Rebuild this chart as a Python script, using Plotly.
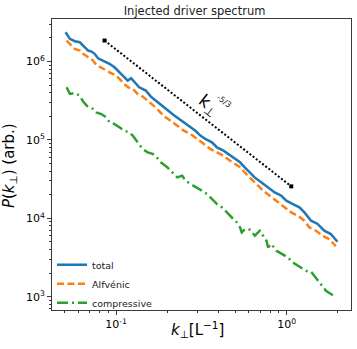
import numpy as np
import plotly.graph_objects as go

# total spectrum
k_total = [0.0505, 0.0535, 0.0572, 0.0612, 0.0640, 0.0685, 0.0716, 0.0748, 0.0783, 0.0837,
           0.0914, 0.0978, 0.1045, 0.1117, 0.1170, 0.1223, 0.1278, 0.1366, 0.1494, 0.1598,
           0.1748, 0.1909, 0.2041, 0.2183, 0.2387, 0.2553, 0.2729, 0.2918, 0.3120, 0.3337,
           0.3649, 0.3903, 0.4264, 0.4662, 0.4985, 0.5331, 0.5700, 0.6094, 0.6516, 0.7126,
           0.7786, 0.8515, 0.9315, 0.996, 1.088, 1.190, 1.272, 1.392, 1.521, 1.663,
           1.819, 1.927, 1.987]
p_total = [2.367e6, 1.949e6, 1.817e6, 1.764e6, 1.601e6, 1.382e6, 1.342e6, 1.254e6, 1.102e6, 1.030e6,
           9.35e5, 8.46e5, 7.30e5, 6.30e5, 5.72e5, 6.12e5, 5.44e5, 4.70e5, 4.26e5, 3.57e5,
           3.04e5, 2.59e5, 2.30e5, 2.07e5, 1.79e5, 1.60e5, 1.45e5, 1.31e5, 1.135e5, 1.03e5,
           9.32e4, 8.04e4, 7.30e4, 6.30e4, 5.72e4, 5.18e4, 4.43e4, 3.88e4, 3.30e4, 2.87e4,
           2.48e4, 2.14e4, 1.94e4, 1.68e4, 1.52e4, 1.38e4, 1.19e4, 9.32e3, 8.46e3, 6.94e3,
           6.30e3, 5.49e3, 5.02e3]

# Alfvenic part
k_alf = [0.0512, 0.0535, 0.0572, 0.0612, 0.0640, 0.0685, 0.0732, 0.0765, 0.0837, 0.0914,
         0.1000, 0.1094, 0.1170, 0.1251, 0.1337, 0.1430, 0.1562, 0.1709, 0.1909, 0.2088,
         0.2284, 0.2495, 0.2729, 0.2985, 0.3262, 0.3567, 0.3903, 0.4264, 0.4662, 0.4985,
         0.5331, 0.5700, 0.6094, 0.6665, 0.7280, 0.7964, 0.8713, 0.9736, 1.065, 1.163,
         1.272, 1.360, 1.488, 1.626, 1.778, 1.945]
p_alf = [1.854e6, 1.683e6, 1.453e6, 1.382e6, 1.254e6, 1.135e6, 1.030e6, 9.08e5, 8.07e5, 7.30e5,
         6.63e5, 5.44e5, 4.70e5, 4.48e5, 3.87e5, 3.57e5, 3.04e5, 2.59e5, 2.01e5, 1.76e5,
         1.52e5, 1.31e5, 1.19e5, 1.03e5, 8.89e4, 7.68e4, 6.94e4, 6.30e4, 5.44e4, 4.94e4,
         4.47e4, 3.82e4, 3.30e4, 2.74e4, 2.25e4, 1.94e4, 1.68e4, 1.38e4, 1.19e4, 1.08e4,
         9.32e3, 7.65e3, 6.94e3, 5.99e3, 5.44e3, 4.40e3]

# compressive part
k_comp = [0.0512, 0.0535, 0.0572, 0.0612, 0.0640, 0.0685, 0.0732, 0.0765, 0.0818, 0.0875,
          0.0914, 0.0978, 0.1045, 0.1117, 0.1195, 0.1251, 0.1337, 0.1430, 0.1529, 0.1635,
          0.1709, 0.1827, 0.1998, 0.2136, 0.2284, 0.2442, 0.2553, 0.2729, 0.2985, 0.3192,
          0.3413, 0.3649, 0.3903, 0.4173, 0.4461, 0.4770, 0.5100, 0.5331, 0.5454, 0.5700,
          0.6094, 0.6516, 0.6966, 0.7280, 0.7621, 0.7786, 0.8147, 0.8713, 0.9517, 1.0176,
          1.088, 1.163, 1.244, 1.330, 1.392, 1.4545, 1.5205, 1.6256, 1.7015, 1.8193,
          1.9453]
p_comp = [4.70e5, 3.87e5, 3.96e5, 3.68e5, 3.08e5, 2.61e5, 2.49e5, 2.25e5, 2.14e5, 1.94e5,
          1.68e5, 1.59e5, 1.45e5, 1.31e5, 1.25e5, 1.135e5, 9.32e4, 7.68e4, 6.94e4, 6.63e4,
          6.21e4, 5.18e4, 4.47e4, 3.86e4, 3.33e4, 3.50e4, 3.02e4, 2.74e4, 2.48e4, 2.25e4,
          2.04e4, 1.76e4, 1.52e4, 1.38e4, 1.19e4, 1.03e4, 8.86e3, 7.65e3, 6.60e3, 7.30e3,
          7.15e3, 5.99e3, 6.94e3, 5.99e3, 5.17e3, 4.25e3, 4.70e3, 3.86e3, 3.50e3, 3.17e3,
          2.73e3, 2.48e3, 2.25e3, 2.08e3, 2.08e3, 1.85e3, 1.60e3, 1.38e3, 1.19e3, 1.08e3,
          997]

# k^-5/3 guide line
k_ref = [0.0855, 1.065]
p_ref = [1.854e6, 2.556e4]

x_ticks = [0.1, 1.0]
x_tick_text = ["10<sup>-1</sup>", "10<sup>0</sup>"]
y_ticks = [1e3, 1e4, 1e5, 1e6]
y_tick_text = ["10<sup>3</sup>", "10<sup>4</sup>", "10<sup>5</sup>", "10<sup>6</sup>"]

FONT = "DejaVu Sans"
AXCOL = "#3a3a3a"
LABEL_ANGLE = 37.5


def log_range(vals, pad=0.05):
    lo, hi = np.log10(min(vals)), np.log10(max(vals))
    d = (hi - lo) * pad
    return [lo - d, hi + d]


def minor_vals(lo, hi):
    out = []
    for e in range(int(np.floor(lo)), int(np.ceil(hi)) + 1):
        for m in range(2, 10):
            out.append(m * 10.0 ** e)
    return out


all_k = k_total + k_alf + k_comp
all_p = p_total + p_alf + p_comp
xr = log_range(all_k)
yr = log_range(all_p)

fig = go.Figure()

fig.add_trace(go.Scatter(x=k_total, y=p_total, mode="lines", name="total",
                         line=dict(color="#1f77b4", width=2.5)))
fig.add_trace(go.Scatter(x=k_alf, y=p_alf, mode="lines", name="Alfvénic",
                         line=dict(color="#ff7f0e", width=2.5, dash="7px,3.5px")))
fig.add_trace(go.Scatter(x=k_comp, y=p_comp, mode="lines", name="compressive",
                         line=dict(color="#2ca02c", width=2.5, dash="11px,4px,2px,4px")))
fig.add_trace(go.Scatter(x=k_ref, y=p_ref, mode="lines+markers", showlegend=False,
                         line=dict(color="black", width=2, dash="2px,2px"),
                         marker=dict(symbol="square", size=4, color="black")))

# label of the guide line, rotated along it (k_perp with the exponent stacked on top)
fig.add_annotation(x=np.log10(0.347), y=np.log10(2.74e5), xref="x", yref="y",
                   text="k<sub>⊥</sub>", showarrow=False, textangle=LABEL_ANGLE,
                   font=dict(family=FONT, size=17, color="black"))
fig.add_annotation(x=np.log10(0.43), y=np.log10(3.08e5), xref="x", yref="y",
                   text="-5/3", showarrow=False, textangle=LABEL_ANGLE,
                   font=dict(family=FONT, size=8, color="#222"))

# axis titles
fig.add_annotation(x=0.485, y=-0.068, xref="paper", yref="paper",
                   text="<i>k</i><sub>⊥</sub>[L<sup>−1</sup>]", showarrow=False,
                   xanchor="center", yanchor="middle",
                   font=dict(family=FONT, size=15, color="black"))
fig.add_annotation(x=-0.14, y=0.495, xref="paper", yref="paper",
                   text="<i>P</i>(<i>k</i><sub>⊥</sub>) (arb.)", showarrow=False,
                   textangle=-90, xanchor="center", yanchor="middle",
                   font=dict(family=FONT, size=15, color="black"))

axis_common = dict(type="log", showline=True, mirror=True, linecolor=AXCOL, linewidth=1,
                   ticks="outside", ticklen=4, tickwidth=1, tickcolor=AXCOL,
                   showgrid=False, zeroline=False, tickmode="array", automargin=False,
                   tickfont=dict(family=FONT, size=11, color="black"))

fig.update_xaxes(**axis_common, range=xr, tickvals=x_ticks, ticktext=x_tick_text,
                 minor=dict(tickmode="array", tickvals=minor_vals(xr[0], xr[1]),
                            ticks="outside", ticklen=2, tickcolor=AXCOL, showgrid=False))
fig.update_yaxes(**axis_common, range=yr, tickvals=y_ticks, ticktext=y_tick_text,
                 minor=dict(tickmode="array", tickvals=minor_vals(yr[0], yr[1]),
                            ticks="outside", ticklen=2, tickcolor=AXCOL, showgrid=False))

fig.update_layout(
    width=357, height=349,
    margin=dict(l=52, r=6, t=19, b=39),
    paper_bgcolor="white", plot_bgcolor="white",
    title=dict(text="Injected driver spectrum", x=0.545, xanchor="center",
               y=1 - 11 / 349, yanchor="middle",
               font=dict(family=FONT, size=11.5, color="#222")),
    legend=dict(x=0.0, y=0.09, xanchor="left", yanchor="middle",
                bgcolor="rgba(0,0,0,0)", font=dict(family=FONT, size=9.5, color="#222"),
                tracegroupgap=0),
    showlegend=True,
)

# drop the default page margin so the figure sits at the window's corner
fig.write_html("out.html", config={"displayModeBar": False},
               post_script="document.body.style.margin='0';")
